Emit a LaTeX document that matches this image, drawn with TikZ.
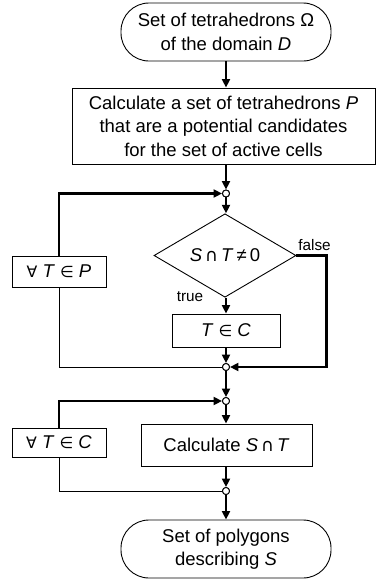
\documentclass[tikz,border=0pt]{standalone}
\usepackage{fontspec}
\setmainfont{Liberation Sans}
\newfontfamily\symf{DejaVu Sans}[Scale=0.85]
\newfontfamily\capf{DejaVu Sans}[Scale=0.95]
\usetikzlibrary{arrows.meta,shapes.geometric,calc}
\newcommand{\iv}[1]{\textit{#1}}
\newcommand{\sy}[1]{{\symf #1}}
\newcommand{\cp}{{\capf ∩}}
\begin{document}
\begin{tikzpicture}[x=1pt,y=-1pt,
  bigtxt/.style={font=\fontsize{18.5}{23.5}\selectfont},
  smalltxt/.style={font=\fontsize{15.3}{18}\selectfont},
  box/.style={draw, line width=0.9pt, inner sep=0pt, align=center, bigtxt},
  term/.style={box, rounded corners=28pt},
  junc/.style={circle, draw, fill=white, line width=0.9pt, minimum size=7pt, inner sep=0pt},
  flow/.style={line width=2.7pt, line join=miter, -{Triangle[length=8.5pt,width=8pt]}},
  back/.style={line width=0.9pt}
]
\useasboundingbox (0,0) rectangle (376,581);

% nodes
\node[term, minimum width=210pt, minimum height=58pt] (start) at (226,32)
  {Set of tetrahedrons Ω\\of the domain \iv{D}};
\node[box, minimum width=303pt, minimum height=76pt] (calcP) at (223.5,126)
  {Calculate a set of tetrahedrons \iv{P}\\that are a potential candidates\\for the set of active cells};
\node[junc] (c1) at (226,193.5) {};
\node[box, diamond, minimum width=142pt, minimum height=65pt] (dia) at (225,255.5)
  {\iv{S}\,\cp\,\iv{T}\,≠\,0};
\node[box, minimum width=94pt, minimum height=31pt] (forP) at (59,271.5)
  {\sy{∀} \iv{T} \sy{∈} \iv{P}};
\node[box, minimum width=108pt, minimum height=33pt] (inC) at (226,330.5)
  {\iv{T} \sy{∈} \iv{C}};
\node[junc] (c2) at (226,367) {};
\node[junc] (c3) at (226,401) {};
\node[box, minimum width=94pt, minimum height=29pt] (forC) at (59,442.5)
  {\sy{∀} \iv{T} \sy{∈} \iv{C}};
\node[box, minimum width=171pt, minimum height=42pt] (calcS) at (226.5,445)
  {Calculate \iv{S}\,\cp\,\iv{T}};
\node[junc] (c4) at (226,491) {};
\node[term, minimum width=210pt, minimum height=58pt] (stop) at (226,549)
  {Set of polygons\\describing \iv{S}};

% labels
\node[smalltxt] (lfalse) at (314.5,245) {false};
\node[smalltxt] (ltrue) at (190,297) {true};

% connectors
\draw[flow] (start.south) -- (start.south |- calcP.north);
\draw[flow] (c1 |- calcP.south) -- (c1.north);
\draw[flow] (forP.north) |- (c1.west);
\draw[flow] (c1.south) -- (c1 |- dia.north);
\draw[flow] (dia.east) -- ++(30,0) |- (c2.east);
\draw[flow] (c1 |- dia.south) -- (c1 |- inC.north);
\draw[flow] (inC.south) -- (c2.north);
\draw[back] (forP.south) |- (c2.west);
\draw[flow] (c2.south) -- (c3.north);
\draw[flow] (forC.north) |- (c3.west);
\draw[flow] (c3.south) -- (c3 |- calcS.north);
\draw[flow] (c3 |- calcS.south) -- (c4.north);
\draw[back] (forC.south) |- (c4.west);
\draw[flow] (c4.south) -- (c4 |- stop.north);

% redraw junctions on top
\foreach \j in {c1,c2,c3,c4} \node[junc] at (\j) {};
\end{tikzpicture}
\end{document}
